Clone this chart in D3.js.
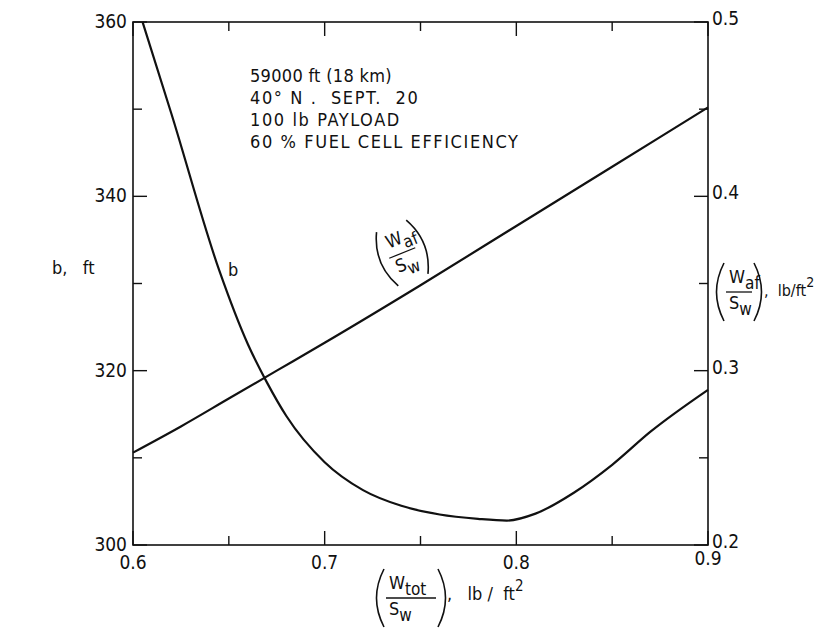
<!DOCTYPE html>
<html>
<head>
<meta charset="utf-8">
<script src="https://cdn.jsdelivr.net/npm/d3@7"></script>
<style>
  body { margin: 0; background: #fff; }
  svg text {
    font-family: "Liberation Sans Narrow", "DejaVu Sans Condensed", "DejaVu Sans", sans-serif;
    font-stretch: condensed;
    white-space: pre;
    fill: #111;
  }
</style>
</head>
<body>
<svg id="chart" width="830" height="642"></svg>
<script>
// wing loading, lb/ft^2
const loading = [0.6, 0.625, 0.65, 0.675, 0.7, 0.75, 0.8, 0.85, 0.9];
// airframe weight per wing area, lb/ft^2
const airframe = [0.253, 0.268, 0.284, 0.3, 0.316, 0.349, 0.383, 0.417, 0.451];

// span b, ft
const spanX = [0.605, 0.62, 0.645, 0.66, 0.67, 0.68, 0.7, 0.72, 0.74, 0.76, 0.78, 0.795, 0.81, 0.83, 0.85, 0.87, 0.9];
const spanB = [360, 349.5, 331.5, 323, 318.6, 314.8, 309.5, 306.3, 304.5, 303.5, 303, 302.8, 303.6, 306, 309.2, 313, 317.8];

const xTicks = [0.6, 0.7, 0.8, 0.9];
const bTicks = [300, 320, 340, 360];
const wTicks = [0.2, 0.3, 0.4, 0.5];
const notes = ["59000 ft (18 km)", "40\u00b0 N .  SEPT.  20", "100 lb PAYLOAD", "60 % FUEL CELL EFFICIENCY"];

const margin = { left: 133, right: 122, top: 22, bottom: 97 };
const width = 830, height = 642;
const svg = d3.select("#chart");

const x = d3.scaleLinear().domain([0.6, 0.9]).range([margin.left, width - margin.right]);
const yB = d3.scaleLinear().domain([300, 360]).range([height - margin.bottom, margin.top]);
const yW = d3.scaleLinear().domain([0.2, 0.5]).range([height - margin.bottom, margin.top]);

const x0 = x.range()[0], x1 = x.range()[1];
const y0 = yB.range()[0], y1 = yB.range()[1];

// frame
svg.append("rect")
  .attr("x", x0).attr("y", y1)
  .attr("width", x1 - x0).attr("height", y0 - y1)
  .attr("fill", "none").attr("stroke", "#111").attr("stroke-width", 1.6);

// inward ticks, long at labelled values
const g = svg.append("g").attr("stroke", "#111").attr("stroke-width", 1.4);
d3.range(0.6, 0.9001, 0.05).forEach((v, i) => {
  const len = i % 2 === 0 ? 14 : 9;
  g.append("line").attr("x1", x(v)).attr("x2", x(v)).attr("y1", y0).attr("y2", y0 - len);
  g.append("line").attr("x1", x(v)).attr("x2", x(v)).attr("y1", y1).attr("y2", y1 + len);
});
d3.range(300, 360.01, 10).forEach((v, i) => {
  const len = i % 2 === 0 ? 14 : 9;
  g.append("line").attr("x1", x0).attr("x2", x0 + len).attr("y1", yB(v)).attr("y2", yB(v));
});
d3.range(0.2, 0.5001, 0.05).forEach((v, i) => {
  const len = i % 2 === 0 ? 14 : 9;
  g.append("line").attr("x1", x1).attr("x2", x1 - len).attr("y1", yW(v)).attr("y2", yW(v));
});

// tick labels
svg.selectAll(".xl").data(xTicks).join("text")
  .attr("x", d => x(d)).attr("y", d => y0 + (d === 0.9 ? 20 : 24))
  .attr("text-anchor", "middle").attr("font-size", 19)
  .text(d => d3.format(".1f")(d));
svg.selectAll(".bl").data(bTicks).join("text")
  .attr("x", x0 - 6).attr("y", d => yB(d) + 6)
  .attr("text-anchor", "end").attr("font-size", 19)
  .text(d => d);
svg.selectAll(".wl").data(wTicks).join("text")
  .attr("x", x1 + 4).attr("y", d => yW(d) + 3)
  .attr("text-anchor", "start").attr("font-size", 19)
  .text(d => d3.format(".1f")(d));

// curves
const lineB = d3.line().x((d, i) => x(spanX[i])).y(d => yB(d)).curve(d3.curveMonotoneX);
svg.append("path").datum(spanB).attr("d", lineB)
  .attr("fill", "none").attr("stroke", "#111").attr("stroke-width", 2.2);

const lineW = d3.line().x((d, i) => x(loading[i])).y(d => yW(d)).curve(d3.curveMonotoneX);
svg.append("path").datum(airframe).attr("d", lineW)
  .attr("fill", "none").attr("stroke", "#111").attr("stroke-width", 2.2);

// notes
svg.selectAll(".note").data(notes).join("text")
  .attr("x", 250).attr("y", (d, i) => 82 + i * 22)
  .attr("font-size", 18)
  .attr("letter-spacing", (d, i) => i === 0 ? 0.3 : 1.6)
  .text(d => d);

// axis titles
svg.append("text").attr("x", 52).attr("y", 274).attr("font-size", 18).text("b,   ft");
svg.append("text").attr("x", 228).attr("y", 276).attr("font-size", 18).text("b");

// fraction with big parentheses
function fraction(gx, top, bottom, sub1, sub2, w) {
  gx.append("path")
    .attr("d", `M8,-29 Q-7,0 8,29`).attr("fill", "none").attr("stroke", "#111").attr("stroke-width", 1.6);
  gx.append("path")
    .attr("d", `M${w - 8},-29 Q${w + 7},0 ${w - 8},29`).attr("fill", "none").attr("stroke", "#111").attr("stroke-width", 1.6);
  gx.append("line").attr("x1", 10).attr("x2", w - 10).attr("y1", 0).attr("y2", 0)
    .attr("stroke", "#111").attr("stroke-width", 1.3);
  const t = gx.append("text").attr("x", 13).attr("y", -9).attr("font-size", 18);
  t.append("tspan").text(top);
  t.append("tspan").attr("dy", 6).attr("font-size", 17).text(sub1);
  const b = gx.append("text").attr("x", 13).attr("y", 17).attr("font-size", 18);
  b.append("tspan").text(bottom);
  b.append("tspan").attr("dy", 6).attr("font-size", 17).text(sub2);
}

const f1 = svg.append("g").attr("transform", "translate(380,262) rotate(-22)");
fraction(f1, "W", "S", "af", "w", 48);

const f2 = svg.append("g").attr("transform", "translate(716,292)");
fraction(f2, "W", "S", "af", "w", 46);
const r2 = svg.append("text").attr("x", 764).attr("y", 296).attr("font-size", 16);
r2.append("tspan").text(",  lb/ft");
r2.append("tspan").attr("dy", -9).attr("font-size", 14).text("2");

const f3 = svg.append("g").attr("transform", "translate(376,598)");
fraction(f3, "W", "S", "tot", "w", 70);
const r3 = svg.append("text").attr("x", 447).attr("y", 600).attr("font-size", 18);
r3.append("tspan").text(",   lb /  ft");
r3.append("tspan").attr("dy", -9).attr("font-size", 15).text("2");
</script>
</body>
</html>
